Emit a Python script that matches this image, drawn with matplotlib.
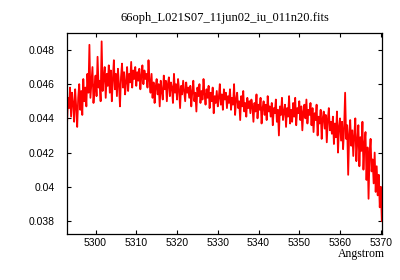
"""
66 Oph spectrum segment (gnuplot-like look)
"""
import matplotlib
matplotlib.use("Agg")
import matplotlib.pyplot as plt
import numpy as np

# wavelength grid (Angstrom)
WAVE_START = 5293.0
WAVE_STEP = 0.25

# flux values, 5 A per row
flux = [
    0.0436, 0.0452, 0.0446, 0.0458, 0.0441, 0.0455, 0.0449, 0.0438, 0.0457, 0.0447,
    0.0435, 0.0452, 0.0460, 0.0445, 0.0456, 0.0442, 0.0463, 0.0450, 0.0458, 0.0447,
    0.0466, 0.0455, 0.0483, 0.0452, 0.0461, 0.0470, 0.0449, 0.0458, 0.0465, 0.0453,
    0.0476, 0.0458, 0.0462, 0.0450, 0.0485, 0.0456, 0.0464, 0.0470, 0.0452, 0.0466,
    0.0459, 0.0471, 0.0455, 0.0468, 0.0450, 0.0463, 0.0474, 0.0457, 0.0466, 0.0453,
    0.0469, 0.0460, 0.0447, 0.0464, 0.0472, 0.0458, 0.0467, 0.0454, 0.0461, 0.0470,
    0.0456, 0.0466, 0.0461, 0.0473, 0.0458, 0.0468, 0.0463, 0.0470, 0.0459, 0.0467,
    0.0462, 0.0469, 0.0457, 0.0465, 0.0471, 0.0460, 0.0468, 0.0463, 0.0466, 0.0458,
    0.0474, 0.0462, 0.0455, 0.0466, 0.0452, 0.0461, 0.0449, 0.0458, 0.0463, 0.0454,
    0.0460, 0.0447, 0.0462, 0.0456, 0.0451, 0.0465, 0.0457, 0.0462, 0.0450, 0.0460,
    0.0464, 0.0453, 0.0461, 0.0458, 0.0449, 0.0466, 0.0455, 0.0460, 0.0451, 0.0463,
    0.0457, 0.0446, 0.0459, 0.0454, 0.0462, 0.0456, 0.0450, 0.0461, 0.0455, 0.0458,
    0.0452, 0.0459, 0.0447, 0.0456, 0.0462, 0.0450, 0.0455, 0.0444, 0.0458, 0.0453,
    0.0460, 0.0449, 0.0456, 0.0451, 0.0463, 0.0454, 0.0448, 0.0457, 0.0452, 0.0459,
    0.0446, 0.0455, 0.0450, 0.0458, 0.0443, 0.0453, 0.0449, 0.0456, 0.0447, 0.0452,
    0.0460, 0.0448, 0.0454, 0.0445, 0.0457, 0.0451, 0.0455, 0.0446, 0.0453, 0.0449,
    0.0457, 0.0445, 0.0452, 0.0448, 0.0460, 0.0442, 0.0451, 0.0455, 0.0446, 0.0450,
    0.0439, 0.0453, 0.0447, 0.0456, 0.0444, 0.0449, 0.0441, 0.0452, 0.0446, 0.0450,
    0.0443, 0.0451, 0.0447, 0.0438, 0.0449, 0.0444, 0.0454, 0.0440, 0.0448, 0.0445,
    0.0452, 0.0437, 0.0446, 0.0450, 0.0442, 0.0448, 0.0439, 0.0453, 0.0444, 0.0447,
    0.0441, 0.0449, 0.0436, 0.0446, 0.0443, 0.0451, 0.0438, 0.0445, 0.0430, 0.0447,
    0.0442, 0.0452, 0.0439, 0.0444, 0.0448, 0.0435, 0.0446, 0.0441, 0.0453, 0.0437,
    0.0445, 0.0438, 0.0449, 0.0441, 0.0452, 0.0436, 0.0446, 0.0443, 0.0450, 0.0439,
    0.0447, 0.0433, 0.0444, 0.0448, 0.0440, 0.0451, 0.0437, 0.0445, 0.0442, 0.0449,
    0.0436, 0.0446, 0.0432, 0.0443, 0.0439, 0.0448, 0.0430, 0.0441, 0.0437, 0.0445,
    0.0428, 0.0440, 0.0444, 0.0434, 0.0442, 0.0426, 0.0439, 0.0446, 0.0433, 0.0438,
    0.0431, 0.0441, 0.0425, 0.0437, 0.0429, 0.0444, 0.0420, 0.0435, 0.0440, 0.0427,
    0.0438, 0.0422, 0.0434, 0.0455, 0.0428, 0.0436, 0.0407, 0.0431, 0.0439, 0.0424,
    0.0433, 0.0418, 0.0430, 0.0440, 0.0415, 0.0427, 0.0436, 0.0412, 0.0429, 0.0421,
    0.0438, 0.0410, 0.0425, 0.0432, 0.0404, 0.0423, 0.0393, 0.0419, 0.0428, 0.0409,
    0.0416, 0.0402, 0.0420, 0.0397, 0.0412, 0.0395, 0.0407, 0.0388, 0.0400, 0.0380,
]
wave = WAVE_START + WAVE_STEP * np.arange(len(flux))

x_ticks = [5300, 5310, 5320, 5330, 5340, 5350, 5360, 5370]
y_ticks = [0.038, 0.04, 0.042, 0.044, 0.046, 0.048]
y_labels = ["0.038", "0.04", "0.042", "0.044", "0.046", "0.048"]

TITLE = "66oph_L021S07_11jun02_iu_011n20.fits"
XLABEL = "Angstrom"

SERIF = ["Liberation Serif", "DejaVu Serif"]
SANS = ["Liberation Sans", "DejaVu Sans"]

fig = plt.figure(figsize=(4, 2.8), dpi=100, facecolor="white")
ax = fig.add_axes([67 / 400, 46 / 280, 315 / 400, 201 / 280])

ax.plot(wave, flux, color="#ff0000", linewidth=1.3)

ax.set_xlim(5293.0, 5370.3)
ax.set_ylim(0.03724, 0.04899)
ax.set_xticks(x_ticks)
ax.set_yticks(y_ticks)
ax.set_yticklabels(y_labels)

ax.tick_params(direction="in", top=True, right=True, length=3, width=0.8,
               labelsize=7.5)
ax.tick_params(axis="x", pad=3)
ax.tick_params(axis="y", pad=9)
for lbl in ax.get_xticklabels() + ax.get_yticklabels():
    lbl.set_family(SANS)
for sp in ax.spines.values():
    sp.set_linewidth(0.9)

ax.set_title(TITLE, family=SERIF, fontsize=9, pad=8.5)
fig.text(385 / 400, 1 - 254 / 280, XLABEL, family=SERIF, fontsize=8.5,
         ha="right", va="center")

fig.savefig("out.png", dpi=100, facecolor="white")
